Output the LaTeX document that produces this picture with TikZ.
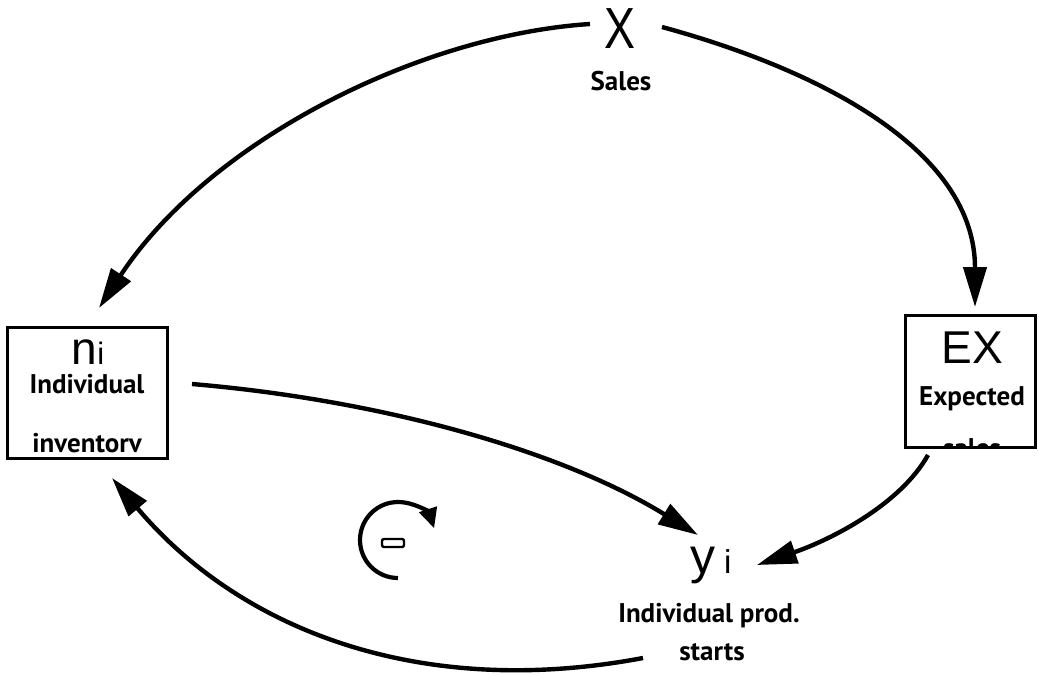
\documentclass[tikz,border=0pt]{standalone}
\usepackage{fontspec}
\setmainfont{Liberation Sans}
\newfontfamily\labfont{PT Sans}
\usetikzlibrary{arrows.meta}
\begin{document}
\begin{tikzpicture}[x=1pt,y=-1pt,
  lab/.style={font=\labfont\fontsize{27}{29}\selectfont\bfseries, inner sep=0pt, anchor=base},
  big/.style={inner sep=0pt, anchor=base},
  boxline/.style={line width=3pt},
  conn/.style={line width=4.4pt, -{Triangle[length=40pt,width=23pt]}},
  loopline/.style={line width=4.2pt, -{Triangle[length=20pt,width=18pt]}}]
\useasboundingbox (0,0) rectangle (1038,673);

% texts
\node[big, font=\fontsize{58}{60}\selectfont, xscale=0.8] (X) at (620,48) {X};
\node[lab] (sales) at (621,90) {Sales};

\node[big] (ni) at (88,364) {\fontsize{46}{48}\selectfont n\fontsize{31}{32}\selectfont i};
\node[lab] (indl) at (87,393) {Individual};
\node[lab] (inv) at (87,452) {inventorv};

\node[big, font=\fontsize{46}{48}\selectfont] (EX) at (972,363) {EX};
\node[lab] (exp) at (972,405) {Expected};
\begin{scope}
  \clip (900,420) rectangle (1038,447);
  \node[lab] (sls) at (972,457) {sales};
\end{scope}

\node[big] (yi) at (711,573) {\fontsize{50}{52}\selectfont y\,\fontsize{33}{34}\selectfont i};
\node[lab] (indp) at (709,622) {Individual prod.};
\node[lab] (starts) at (712,660) {starts};

% boxes
\draw[boxline] (7,327) rectangle (167,458);
\draw[boxline] (905,315) rectangle (1035,447);

% connector end points
\coordinate (a1) at (590,24);
\coordinate (a1t) at (99,308);
\coordinate (a2) at (662,27);
\coordinate (a2t) at (975,307);
\coordinate (a3) at (192,384);
\coordinate (a3t) at (698,535);
\coordinate (a4) at (928,455);
\coordinate (a4t) at (757,565);
\coordinate (a5) at (643,658);
\coordinate (a5t) at (112,478);

\draw[conn] (a1) .. controls (420,35) and (210,140) .. (a1t);
\draw[conn] (a2) .. controls (820,70) and (975,150) .. (a2t);
\draw[conn] (a3) .. controls (380,400) and (560,450) .. (a3t);
\draw[conn] (a4) .. controls (900,505) and (830,540) .. (a4t);
\draw[conn] (a5) .. controls (420,700) and (240,630) .. (a5t);

% loop symbol
\coordinate (lc) at (398,540);
\draw[loopline] ([shift={(90:38)}]lc) arc[start angle=90, end angle=342, radius=38];
\node[draw, line width=2.4pt, rounded corners=2pt, minimum width=22pt, minimum height=8pt, inner sep=0pt] (minus) at (393,543) {};
\end{tikzpicture}
\end{document}
